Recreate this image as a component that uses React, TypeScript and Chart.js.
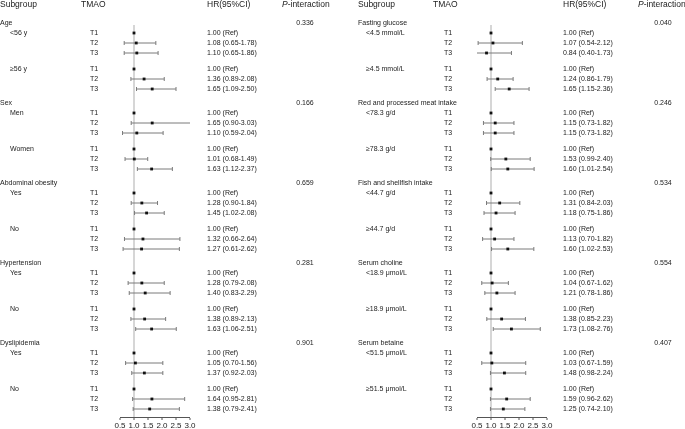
import React, { useEffect, useRef } from 'react';
import { Chart, registerables } from 'chart.js';

Chart.register(...registerables);

const FONT = "'Liberation Sans', Arial, sans-serif";

// ---------- shared ----------
const tmaoLevels = ['T1', 'T2', 'T3'];
const xTickValues = [0.5, 1.0, 1.5, 2.0, 2.5, 3.0];
const headerSubgroup = 'Subgroup';
const headerTmao = 'TMAO';
const headerHr = 'HR(95%CI)';

// ---------- left panel ----------
const leftGroups = ['Age', 'Sex', 'Abdominal obesity', 'Hypertension', 'Dyslipidemia'];
const leftSubgroups = ['<56 y', '≥56 y', 'Men', 'Women', 'Yes', 'No', 'Yes', 'No', 'Yes', 'No'];
const leftPInteraction = ['0.336', '0.166', '0.659', '0.281', '0.901'];
const leftHrText = [
  '1.00 (Ref)', '1.08 (0.65-1.78)', '1.10 (0.65-1.86)',
  '1.00 (Ref)', '1.36 (0.89-2.08)', '1.65 (1.09-2.50)',
  '1.00 (Ref)', '1.65 (0.90-3.03)', '1.10 (0.59-2.04)',
  '1.00 (Ref)', '1.01 (0.68-1.49)', '1.63 (1.12-2.37)',
  '1.00 (Ref)', '1.28 (0.90-1.84)', '1.45 (1.02-2.08)',
  '1.00 (Ref)', '1.32 (0.66-2.64)', '1.27 (0.61-2.62)',
  '1.00 (Ref)', '1.28 (0.79-2.08)', '1.40 (0.83-2.29)',
  '1.00 (Ref)', '1.38 (0.89-2.13)', '1.63 (1.06-2.51)',
  '1.00 (Ref)', '1.05 (0.70-1.56)', '1.37 (0.92-2.03)',
  '1.00 (Ref)', '1.64 (0.95-2.81)', '1.38 (0.79-2.41)',
];
const leftHr = [
  1.0, 1.08, 1.10,
  1.0, 1.36, 1.65,
  1.0, 1.65, 1.10,
  1.0, 1.01, 1.63,
  1.0, 1.28, 1.45,
  1.0, 1.32, 1.27,
  1.0, 1.28, 1.40,
  1.0, 1.38, 1.63,
  1.0, 1.05, 1.37,
  1.0, 1.64, 1.56,
];
const leftLo = [
  null, 0.65, 0.65,
  null, 0.89, 1.09,
  null, 0.90, 0.59,
  null, 0.68, 1.12,
  null, 0.90, 1.02,
  null, 0.66, 0.61,
  null, 0.79, 0.83,
  null, 0.89, 1.06,
  null, 0.70, 0.92,
  null, 0.95, 0.97,
];
const leftHi = [
  null, 1.78, 1.86,
  null, 2.08, 2.50,
  null, 3.03, 2.04,
  null, 1.49, 2.37,
  null, 1.84, 2.08,
  null, 2.64, 2.62,
  null, 2.08, 2.29,
  null, 2.13, 2.51,
  null, 2.03, 2.03,
  null, 2.81, 2.62,
];

// ---------- right panel ----------
const rightGroups = ['Fasting glucose', 'Red and processed meat intake', 'Fish and shellfish intake', 'Serum choline', 'Serum betaine'];
const rightSubgroups = ['<4.5 mmol/L', '≥4.5 mmol/L', '<78.3 g/d', '≥78.3 g/d', '<44.7 g/d', '≥44.7 g/d', '<18.9 μmol/L', '≥18.9 μmol/L', '<51.5 μmol/L', '≥51.5 μmol/L'];
const rightPInteraction = ['0.040', '0.246', '0.534', '0.554', '0.407'];
const rightHrText = [
  '1.00 (Ref)', '1.07 (0.54-2.12)', '0.84 (0.40-1.73)',
  '1.00 (Ref)', '1.24 (0.86-1.79)', '1.65 (1.15-2.36)',
  '1.00 (Ref)', '1.15 (0.73-1.82)', '1.15 (0.73-1.82)',
  '1.00 (Ref)', '1.53 (0.99-2.40)', '1.60 (1.01-2.54)',
  '1.00 (Ref)', '1.31 (0.84-2.03)', '1.18 (0.75-1.86)',
  '1.00 (Ref)', '1.13 (0.70-1.82)', '1.60 (1.02-2.53)',
  '1.00 (Ref)', '1.04 (0.67-1.62)', '1.21 (0.78-1.86)',
  '1.00 (Ref)', '1.38 (0.85-2.23)', '1.73 (1.08-2.76)',
  '1.00 (Ref)', '1.03 (0.67-1.59)', '1.48 (0.98-2.24)',
  '1.00 (Ref)', '1.59 (0.96-2.62)', '1.25 (0.74-2.10)',
];
const rightHr = [
  1.0, 1.07, 0.84,
  1.0, 1.24, 1.65,
  1.0, 1.15, 1.15,
  1.0, 1.53, 1.60,
  1.0, 1.31, 1.18,
  1.0, 1.13, 1.60,
  1.0, 1.04, 1.21,
  1.0, 1.38, 1.73,
  1.0, 1.03, 1.48,
  1.0, 1.56, 1.44,
];
const rightLo = [
  null, 0.54, 0.40,
  null, 0.86, 1.15,
  null, 0.73, 0.73,
  null, 0.99, 1.01,
  null, 0.84, 0.75,
  null, 0.70, 1.02,
  null, 0.67, 0.78,
  null, 0.85, 1.08,
  null, 0.67, 0.98,
  null, 0.98, 0.98,
];
const rightHi = [
  null, 2.12, 1.73,
  null, 1.79, 2.36,
  null, 1.82, 1.82,
  null, 2.40, 2.54,
  null, 2.03, 1.86,
  null, 1.82, 2.53,
  null, 1.62, 1.86,
  null, 2.23, 2.76,
  null, 2.24, 2.24,
  null, 2.40, 2.21,
];

// ---------- layout helpers (row positions from table structure) ----------
const GROUP_STEP = 8;
const SUB_OFFSETS = [[1, 2, 3], [4.6, 5.6, 6.6]];
const groupPos = (gi: number) => gi * GROUP_STEP;
const rowPos = (gi: number, si: number, ti: number) => gi * GROUP_STEP + SUB_OFFSETS[si][ti];
const Y_MIN = 0.2;
const Y_MAX = 39.4;
const HEADER_Y = 5;

type PanelCfg = {
  groups: string[];
  subgroups: string[];
  pvals: string[];
  hrText: string[];
  hr: number[];
  lo: (number | null)[];
  hi: (number | null)[];
  width: number;
  padLeft: number;
  padRight: number;
  colGroup: number;
  colSub: number;
  colTmaoHead: number;
  colT: number;
  colHr: number;
  colPHead: number;
  colP: number;
};

const leftCfg: PanelCfg = {
  groups: leftGroups, subgroups: leftSubgroups, pvals: leftPInteraction, hrText: leftHrText,
  hr: leftHr, lo: leftLo, hi: leftHi,
  width: 340, padLeft: 120, padRight: 150,
  colGroup: 0, colSub: 10, colTmaoHead: 81, colT: 90, colHr: 207, colPHead: 282, colP: 305,
};
const rightCfg: PanelCfg = {
  groups: rightGroups, subgroups: rightSubgroups, pvals: rightPInteraction, hrText: rightHrText,
  hr: rightHr, lo: rightLo, hi: rightHi,
  width: 345, padLeft: 137, padRight: 138,
  colGroup: 18, colSub: 26, colTmaoHead: 93, colT: 104, colHr: 223, colPHead: 298, colP: 323,
};

function rowIndex(gi: number, si: number, ti: number) {
  return gi * 6 + si * 3 + ti;
}

function buildChart(canvas: HTMLCanvasElement, cfg: PanelCfg) {
  const markers: { x: number; y: number }[] = [];
  const caps: { x: number; y: number }[] = [];
  const ciSets: any[] = [];
  cfg.groups.forEach((_, gi) => {
    [0, 1].forEach((si) => {
      tmaoLevels.forEach((_, ti) => {
        const r = rowIndex(gi, si, ti);
        const y = rowPos(gi, si, ti);
        markers.push({ x: cfg.hr[r], y });
        const lo = cfg.lo[r];
        const hi = cfg.hi[r];
        if (lo != null && hi != null) {
          caps.push({ x: lo, y }, { x: hi, y });
          ciSets.push({
            type: 'line',
            data: [{ x: lo, y }, { x: hi, y }],
            borderColor: '#7a7a7a',
            borderWidth: 1,
            pointRadius: 0,
            fill: false,
            order: 3,
          });
        }
      });
    });
  });

  const textPlugin = {
    id: 'tableText',
    afterDraw(chart: any) {
      const ctx = chart.ctx as CanvasRenderingContext2D;
      const ys = chart.scales.y;
      ctx.save();
      ctx.fillStyle = '#222';
      ctx.textBaseline = 'middle';
      ctx.textAlign = 'left';
      ctx.font = `8.5px ${FONT}`;
      ctx.fillText(headerSubgroup, cfg.colGroup, HEADER_Y);
      ctx.fillText(headerTmao, cfg.colTmaoHead, HEADER_Y);
      ctx.fillText(headerHr, cfg.colHr, HEADER_Y);
      ctx.font = `italic 8.5px ${FONT}`;
      ctx.fillText('P', cfg.colPHead, HEADER_Y);
      const pw = ctx.measureText('P').width;
      ctx.font = `8.5px ${FONT}`;
      ctx.fillText('-interaction', cfg.colPHead + pw, HEADER_Y);

      ctx.font = `7px ${FONT}`;
      cfg.groups.forEach((g, gi) => {
        const gy = ys.getPixelForValue(groupPos(gi));
        ctx.textAlign = 'left';
        ctx.fillText(g, cfg.colGroup, gy);
        ctx.textAlign = 'center';
        ctx.fillText(cfg.pvals[gi], cfg.colP, gy);
        ctx.textAlign = 'left';
        [0, 1].forEach((si) => {
          const sub = cfg.subgroups[gi * 2 + si];
          ctx.fillText(sub, cfg.colSub, ys.getPixelForValue(rowPos(gi, si, 0)));
          tmaoLevels.forEach((t, ti) => {
            const y = ys.getPixelForValue(rowPos(gi, si, ti));
            ctx.fillText(t, cfg.colT, y);
            ctx.fillText(cfg.hrText[rowIndex(gi, si, ti)], cfg.colHr, y);
          });
        });
      });
      ctx.restore();
    },
  };

  return new Chart(canvas, {
    type: 'scatter',
    data: {
      datasets: [
        ...ciSets,
        {
          type: 'scatter',
          data: caps,
          pointStyle: 'line',
          rotation: 90,
          pointRadius: 2,
          borderColor: '#7a7a7a',
          borderWidth: 1,
          order: 2,
        },
        {
          type: 'scatter',
          data: markers,
          pointStyle: 'rect',
          pointRadius: 2,
          backgroundColor: '#111',
          borderColor: '#111',
          borderWidth: 0,
          order: 1,
        },
      ],
    } as any,
    options: {
      responsive: false,
      animation: false,
      devicePixelRatio: 1,
      events: [],
      layout: { padding: { left: cfg.padLeft, right: cfg.padRight, top: 25, bottom: 0 } },
      plugins: { legend: { display: false }, tooltip: { enabled: false }, title: { display: false } },
      scales: {
        x: {
          type: 'linear',
          position: 'bottom',
          min: 0.5,
          max: 3.0,
          afterBuildTicks: (scale: any) => {
            scale.ticks = xTickValues.map((v) => ({ value: v }));
          },
          afterFit: (scale: any) => {
            scale.height = 12;
          },
          ticks: {
            autoSkip: false,
            maxRotation: 0,
            padding: 1,
            color: '#222',
            font: { family: FONT, size: 8 },
            callback: (v: any) => Number(v).toFixed(1),
          },
          border: { display: true, color: '#555', width: 1 },
          grid: {
            drawOnChartArea: true,
            drawTicks: true,
            tickLength: 3,
            tickColor: '#555',
            tickWidth: 1,
            color: (c: any) => (c.tick && c.tick.value === 1 ? '#d6d6d6' : 'rgba(0,0,0,0)'),
            lineWidth: (c: any) => (c.tick && c.tick.value === 1 ? 2 : 0),
          },
        },
        y: {
          type: 'linear',
          display: false,
          reverse: true,
          min: Y_MIN,
          max: Y_MAX,
        },
      },
    } as any,
    plugins: [textPlugin],
  });
}

function Panel({ cfg }: { cfg: PanelCfg }) {
  const ref = useRef<HTMLCanvasElement | null>(null);
  useEffect(() => {
    if (!ref.current) return;
    const chart = buildChart(ref.current, cfg);
    return () => chart.destroy();
  }, [cfg]);
  return <canvas ref={ref} width={cfg.width} height={429} style={{ display: 'block', width: cfg.width, height: 429 }} />;
}

export default function App() {
  useEffect(() => {
    document.body.style.margin = '0';
    document.body.style.background = '#fff';
  }, []);
  return (
    <div style={{ display: 'flex', width: 685, height: 429, background: '#fff', overflow: 'hidden' }}>
      <Panel cfg={leftCfg} />
      <Panel cfg={rightCfg} />
    </div>
  );
}
